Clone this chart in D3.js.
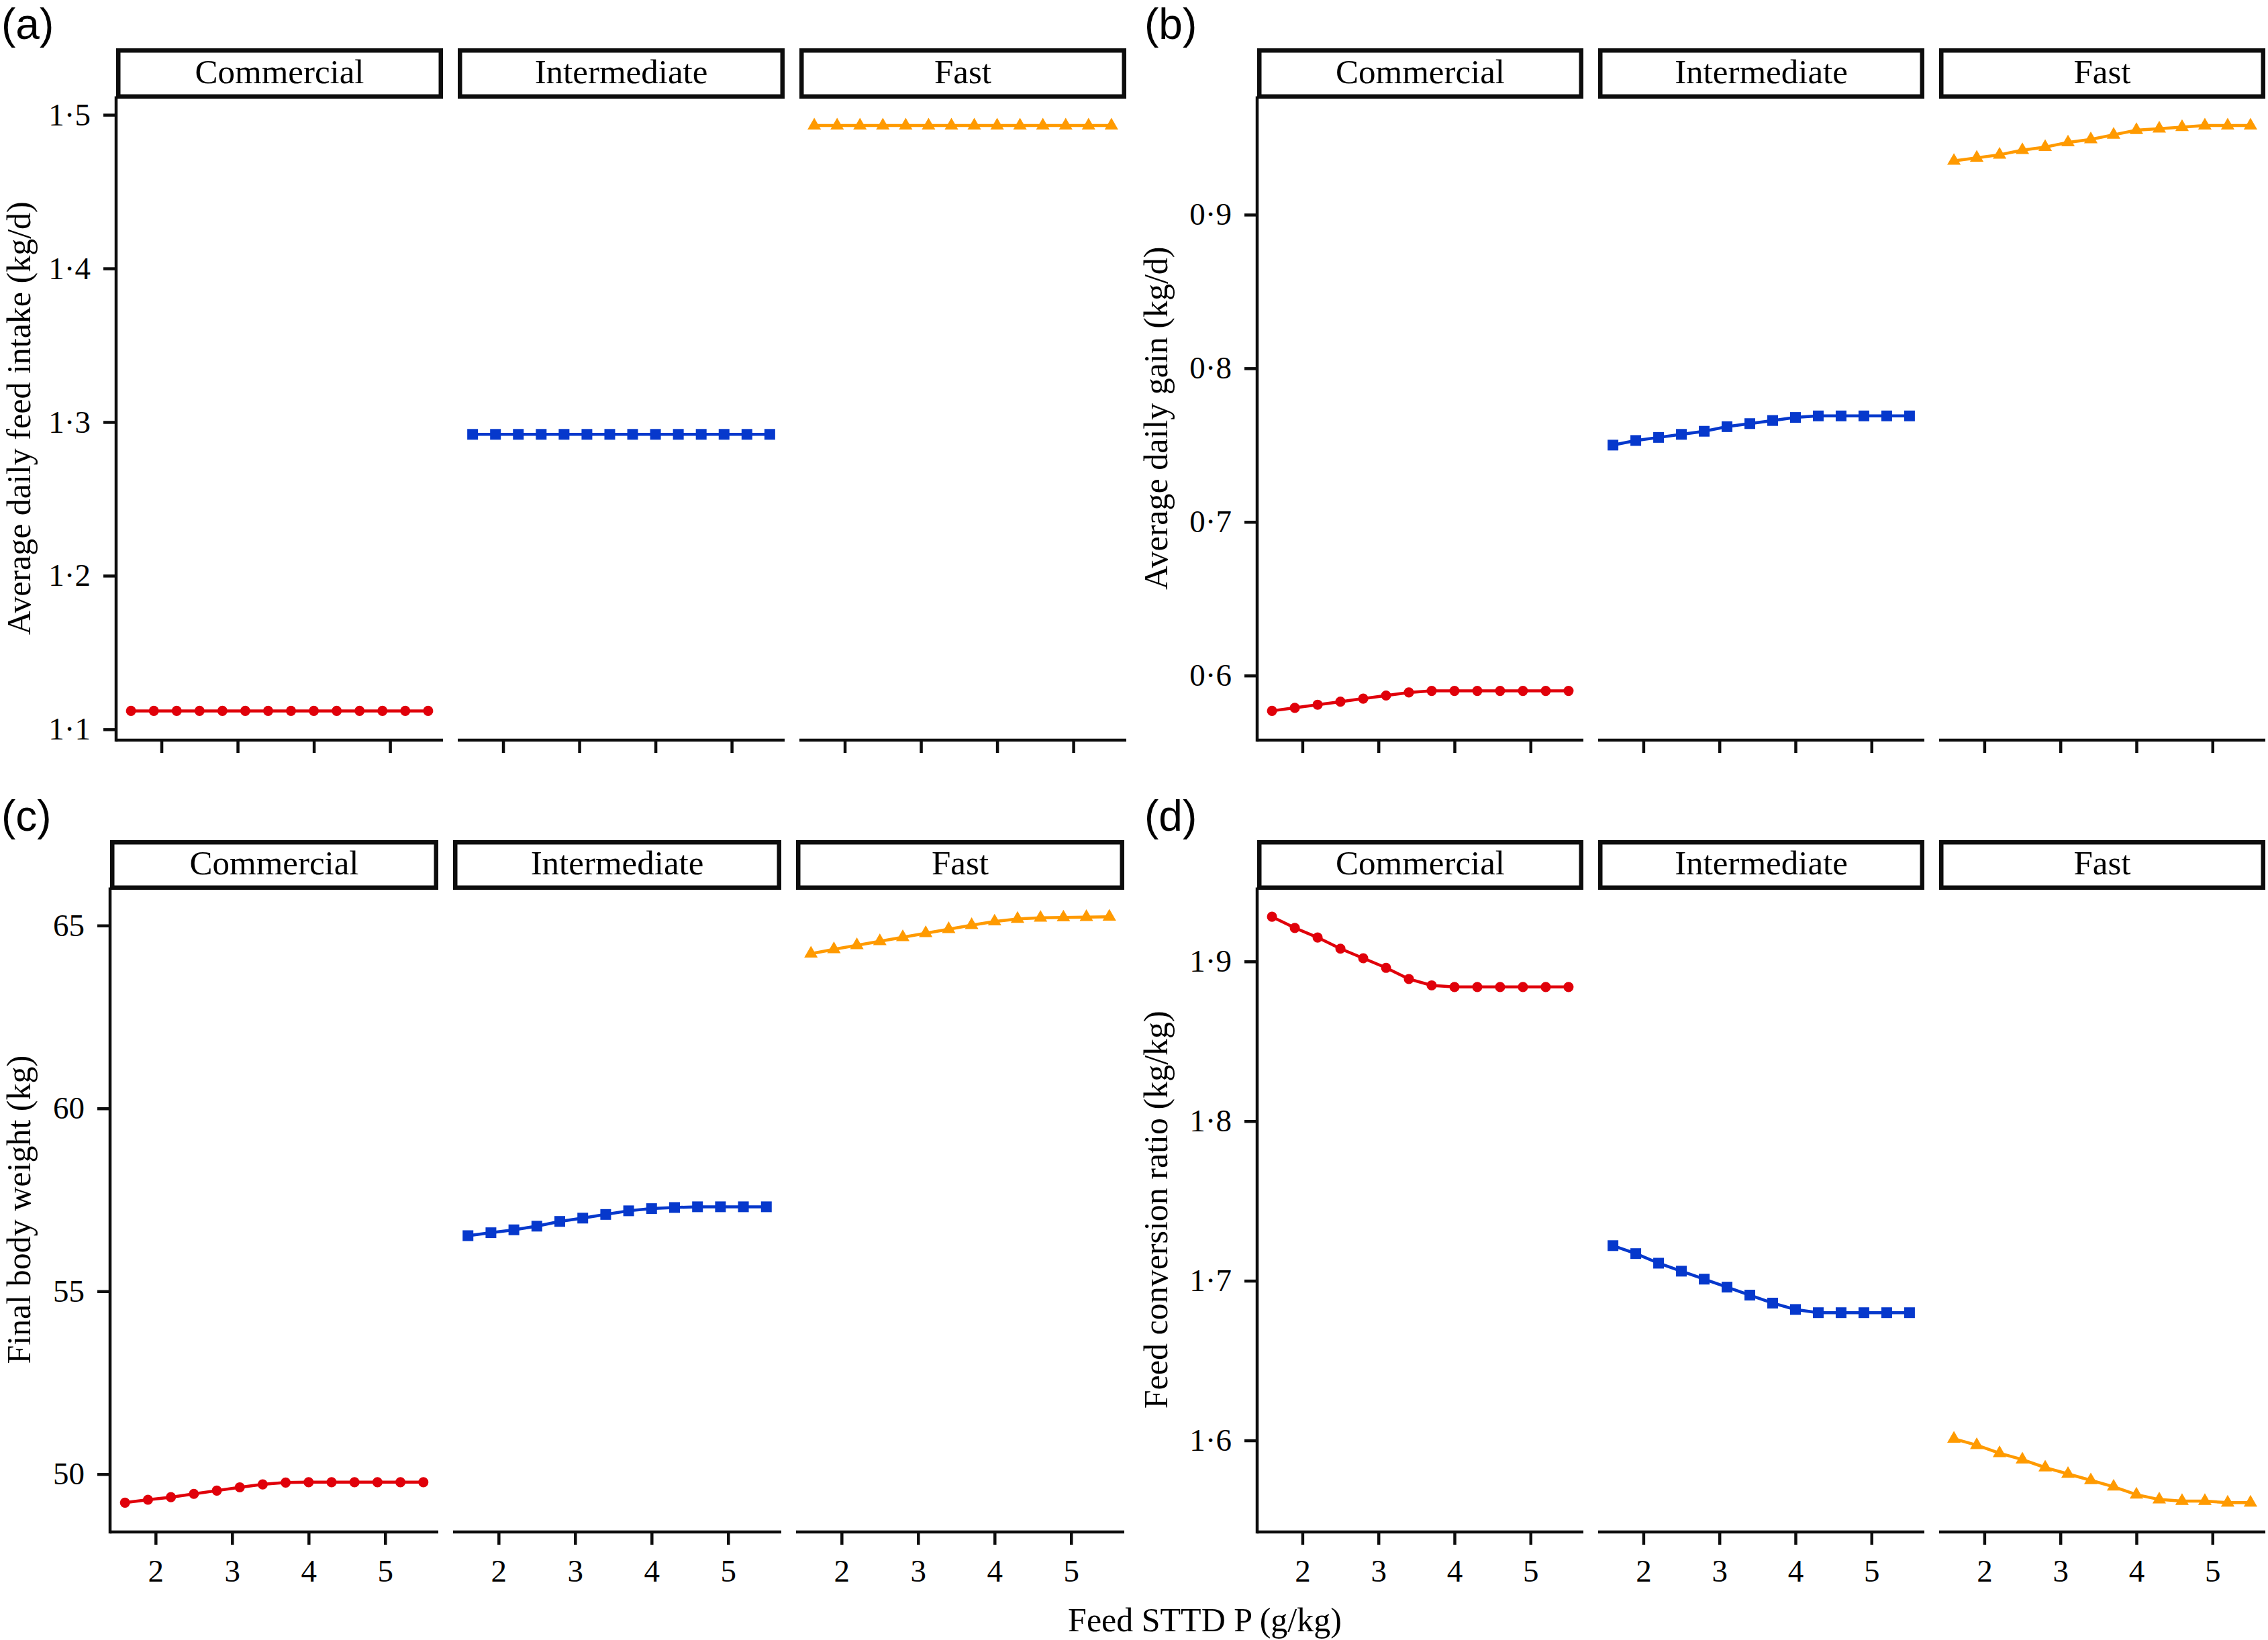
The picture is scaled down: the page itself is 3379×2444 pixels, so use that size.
<!DOCTYPE html>
<html>
<head>
<meta charset="utf-8">
<script src="https://cdn.jsdelivr.net/npm/d3@7"></script>
<style>
  html, body { margin: 0; padding: 0; background: #ffffff; }
  svg { display: block; }
</style>
</head>
<body>
<script>
// ---------------- DATA ----------------
const categories = ["Commercial", "Intermediate", "Fast"];
const feedP = [1.6, 1.9, 2.2, 2.5, 2.8, 3.1, 3.4, 3.7, 4.0, 4.3, 4.6, 4.9, 5.2, 5.5];
const xTicks = [2, 3, 4, 5];
const xTickLabels = ["2", "3", "4", "5"];

// (a) Average daily feed intake (kg/d)
const adfiCommercial   = [1.112, 1.112, 1.112, 1.112, 1.112, 1.112, 1.112, 1.112, 1.112, 1.112, 1.112, 1.112, 1.112, 1.112];
const adfiIntermediate = [1.292, 1.292, 1.292, 1.292, 1.292, 1.292, 1.292, 1.292, 1.292, 1.292, 1.292, 1.292, 1.292, 1.292];
const adfiFast         = [1.493, 1.493, 1.493, 1.493, 1.493, 1.493, 1.493, 1.493, 1.493, 1.493, 1.493, 1.493, 1.493, 1.493];
const adfiTicks = [1.1, 1.2, 1.3, 1.4, 1.5];
const adfiTickLabels = ["1·1", "1·2", "1·3", "1·4", "1·5"];

// (b) Average daily gain (kg/d)
const adgCommercial   = [0.577, 0.579, 0.581, 0.583, 0.585, 0.587, 0.589, 0.590, 0.590, 0.590, 0.590, 0.590, 0.590, 0.590];
const adgIntermediate = [0.750, 0.753, 0.755, 0.757, 0.759, 0.762, 0.764, 0.766, 0.768, 0.769, 0.769, 0.769, 0.769, 0.769];
const adgFast         = [0.935, 0.937, 0.939, 0.942, 0.944, 0.947, 0.949, 0.952, 0.955, 0.956, 0.957, 0.958, 0.958, 0.958];
const adgTicks = [0.6, 0.7, 0.8, 0.9];
const adgTickLabels = ["0·6", "0·7", "0·8", "0·9"];

// (c) Final body weight (kg)
const fbwCommercial   = [49.22, 49.30, 49.37, 49.46, 49.55, 49.64, 49.72, 49.77, 49.78, 49.78, 49.78, 49.78, 49.78, 49.78];
const fbwIntermediate = [56.52, 56.60, 56.68, 56.78, 56.91, 57.00, 57.10, 57.20, 57.26, 57.29, 57.31, 57.31, 57.31, 57.31];
const fbwFast         = [64.23, 64.35, 64.46, 64.57, 64.68, 64.79, 64.90, 65.01, 65.11, 65.18, 65.21, 65.22, 65.23, 65.24];
const fbwTicks = [50, 55, 60, 65];
const fbwTickLabels = ["50", "55", "60", "65"];

// (d) Feed conversion ratio (kg/kg)
const fcrCommercial   = [1.928, 1.921, 1.915, 1.908, 1.902, 1.896, 1.889, 1.885, 1.884, 1.884, 1.884, 1.884, 1.884, 1.884];
const fcrIntermediate = [1.722, 1.717, 1.711, 1.706, 1.701, 1.696, 1.691, 1.686, 1.682, 1.680, 1.680, 1.680, 1.680, 1.680];
const fcrFast         = [1.601, 1.597, 1.592, 1.588, 1.583, 1.579, 1.575, 1.571, 1.566, 1.563, 1.562, 1.562, 1.561, 1.561];
const fcrTicks = [1.6, 1.7, 1.8, 1.9];
const fcrTickLabels = ["1·6", "1·7", "1·8", "1·9"];

const xTitle = "Feed STTD P (g/kg)";

// ---------------- STYLE / LAYOUT ----------------
const W = 3379, H = 2444;
const serif = "'Liberation Serif', 'Times New Roman', Times, serif";
const sans = "'Liberation Sans', Arial, Helvetica, sans-serif";
const colors = ["#e0000a", "#0638cc", "#ff9a00"];
const symbols = [d3.symbolCircle, d3.symbolSquare, d3.symbolTriangle];
const symbolSizes = [180, 256, 175];
const axisW = 4.5, tickLen = 19, facetGap = 22;

const panels = [
  { tag: "(a)", tagX: 2, tagY: 58, left: 173, right: 1678, stripTop: 72, stripBottom: 147, top: 143.5, bottom: 1103,
    series: [adfiCommercial, adfiIntermediate, adfiFast], yTicks: adfiTicks, yLabels: adfiTickLabels,
    title: "Average daily feed intake (kg/d)", titleX: 45, xLabels: false },
  { tag: "(b)", tagX: 1705, tagY: 58, left: 1873, right: 3375, stripTop: 72, stripBottom: 147, top: 143.5, bottom: 1103,
    series: [adgCommercial, adgIntermediate, adgFast], yTicks: adgTicks, yLabels: adgTickLabels,
    title: "Average daily gain (kg/d)", titleX: 1739, xLabels: false },
  { tag: "(c)", tagX: 2, tagY: 1238, left: 164, right: 1675, stripTop: 1252, stripBottom: 1326, top: 1322.5, bottom: 2283,
    series: [fbwCommercial, fbwIntermediate, fbwFast], yTicks: fbwTicks, yLabels: fbwTickLabels,
    title: "Final body weight (kg)", titleX: 45, xLabels: true },
  { tag: "(d)", tagX: 1705, tagY: 1238, left: 1873, right: 3375, stripTop: 1252, stripBottom: 1326, top: 1322.5, bottom: 2283,
    series: [fcrCommercial, fcrIntermediate, fcrFast], yTicks: fcrTicks, yLabels: fcrTickLabels,
    title: "Feed conversion ratio (kg/kg)", titleX: 1739, xLabels: true }
];

const svg = d3.select("body").append("svg")
  .attr("width", W).attr("height", H)
  .attr("viewBox", `0 0 ${W} ${H}`);
svg.append("rect").attr("width", W).attr("height", H).attr("fill", "#ffffff");

function expandDomain(vals) {
  const [lo, hi] = d3.extent(vals);
  const pad = (hi - lo) * 0.05;
  return [lo - pad, hi + pad];
}

const xDomain = expandDomain(feedP);

panels.forEach(p => {
  const g = svg.append("g");
  const facetW = (p.right - p.left - 2 * facetGap) / 3;
  const y = d3.scaleLinear().domain(expandDomain(p.series.flat())).range([p.bottom, p.top]);

  // panel tag
  svg.append("text").attr("x", p.tagX).attr("y", p.tagY)
    .style("font-family", sans).attr("font-size", 64).attr("fill", "#000")
    .text(p.tag);

  // y axis title
  svg.append("text")
    .attr("transform", `translate(${p.titleX},${(p.top + p.bottom) / 2}) rotate(-90)`)
    .attr("text-anchor", "middle")
    .style("font-family", serif).attr("font-size", 50).attr("fill", "#000")
    .text(p.title);

  categories.forEach((cat, ci) => {
    const fx0 = p.left + ci * (facetW + facetGap);
    const fx1 = fx0 + facetW;
    const x = d3.scaleLinear().domain(xDomain).range([fx0, fx1]);
    const fg = g.append("g");

    // strip
    fg.append("rect")
      .attr("x", fx0 + 3.25).attr("y", p.stripTop + 3.25)
      .attr("width", facetW - 6.5).attr("height", p.stripBottom - p.stripTop - 6.5)
      .attr("fill", "#fff").attr("stroke", "#0d0d0d").attr("stroke-width", 6.5);
    fg.append("text")
      .attr("x", (fx0 + fx1) / 2).attr("y", (p.stripTop + p.stripBottom) / 2 + 14)
      .attr("text-anchor", "middle")
      .style("font-family", serif).attr("font-size", 51).attr("fill", "#000")
      .text(cat);

    // x axis
    const xAxis = d3.axisBottom(x).tickValues(xTicks)
      .tickSize(tickLen).tickSizeOuter(0).tickPadding(22)
      .tickFormat((d, i) => p.xLabels ? xTickLabels[i] : "");
    const xg = fg.append("g").attr("transform", `translate(0,${p.bottom})`).call(xAxis);
    xg.select(".domain").attr("stroke", "#0d0d0d").attr("stroke-width", axisW)
      .attr("d", `M${fx0},0H${fx1}`);
    xg.selectAll(".tick line").attr("stroke", "#0d0d0d").attr("stroke-width", axisW);
    xg.selectAll(".tick text").style("font-family", serif).attr("font-size", 47).attr("fill", "#000");

    // y axis on first facet only
    if (ci === 0) {
      const yAxis = d3.axisLeft(y).tickValues(p.yTicks)
        .tickSize(tickLen).tickSizeOuter(0).tickPadding(19)
        .tickFormat((d, i) => p.yLabels[i]);
      const yg = fg.append("g").attr("transform", `translate(${fx0},0)`).call(yAxis);
      yg.select(".domain").attr("stroke", "#0d0d0d").attr("stroke-width", axisW)
        .attr("d", `M0,${p.top}V${p.bottom + axisW / 2}`);
      yg.selectAll(".tick line").attr("stroke", "#0d0d0d").attr("stroke-width", axisW);
      yg.selectAll(".tick text").style("font-family", serif).attr("font-size", 47).attr("fill", "#000");
    }

    // data
    const pts = feedP.map((v, i) => ({ x: v, y: p.series[ci][i] }));
    const line = d3.line().x(d => x(d.x)).y(d => y(d.y));
    fg.append("path").datum(pts)
      .attr("d", line).attr("fill", "none")
      .attr("stroke", colors[ci]).attr("stroke-width", 4.5);
    fg.selectAll("path.pt").data(pts).join("path")
      .attr("class", "pt")
      .attr("transform", d => `translate(${x(d.x)},${y(d.y)})`)
      .attr("d", d3.symbol().type(symbols[ci]).size(symbolSizes[ci]))
      .attr("fill", colors[ci]);
  });
});

// shared x axis title
svg.append("text").attr("x", 1795).attr("y", 2431)
  .attr("text-anchor", "middle")
  .style("font-family", serif).attr("font-size", 50).attr("fill", "#000")
  .text(xTitle);
</script>
</body>
</html>
